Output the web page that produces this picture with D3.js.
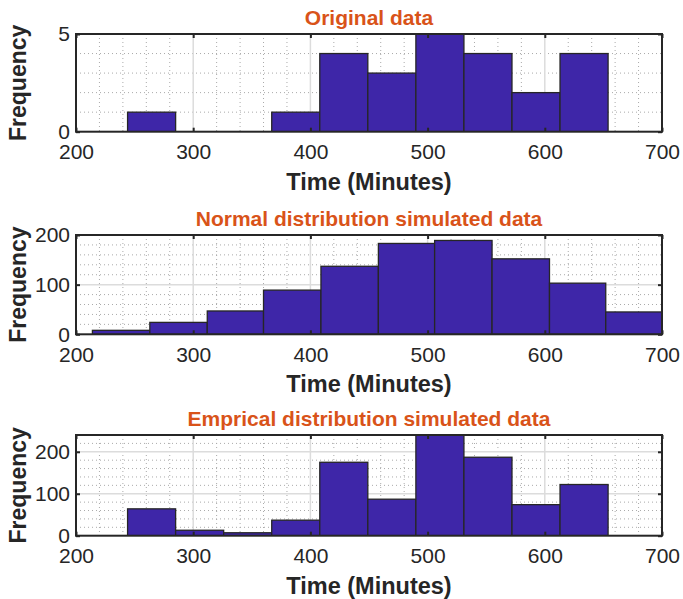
<!DOCTYPE html>
<html>
<head>
<meta charset="utf-8">
<script src="https://cdn.jsdelivr.net/npm/d3@7"></script>
<style>
  body { margin: 0; background: #fff; }
  text { font-family: "Liberation Sans", Arial, sans-serif; }
</style>
</head>
<body>
<div id="chart"></div>
<script>
// histogram data
const titles = ["Original data", "Normal distribution simulated data", "Emprical distribution simulated data"];

const origEdges = [244, 285, 326, 367, 408, 449, 490, 531, 572, 613, 654];
const origCounts = [1, 0, 0, 1, 4, 3, 5, 4, 2, 4];

const normEdges = [214, 263, 312, 360, 409, 458, 506, 555, 604, 652, 701];
const normCounts = [8, 24, 47, 89, 137, 183, 189, 152, 103, 45];

const empEdges = [244, 285, 326, 367, 408, 449, 490, 531, 572, 613, 654];
const empCounts = [64, 13, 7, 37, 175, 87, 240, 187, 74, 122];

const xTicks = [200, 300, 400, 500, 600, 700];
const yTicks1 = [0, 5];
const yTicks2 = [0, 100, 200];
const yTicks3 = [0, 100, 200];
const yMax = [5, 200, 240];
const yMinorStep = [1, 20, 20];

const W = 683, H = 599;
const left = 76, right = 662;
const panelTops = [34, 235, 435];
const panelBottoms = [131.7, 334.3, 535.7];

const barColor = "#3e26a8";
const axisColor = "#262626";

const svg = d3.select("#chart")
  .append("svg")
  .attr("width", W)
  .attr("height", H);

svg.append("rect").attr("width", W).attr("height", H).attr("fill", "#fff");

const panels = [
  { edges: origEdges, counts: origCounts, yTicks: yTicks1 },
  { edges: normEdges, counts: normCounts, yTicks: yTicks2 },
  { edges: empEdges, counts: empCounts, yTicks: yTicks3 },
];

panels.forEach((p, i) => {
  const top = panelTops[i], bottom = panelBottoms[i];
  const x = d3.scaleLinear().domain([200, 700]).range([left, right]);
  const y = d3.scaleLinear().domain([0, yMax[i]]).range([bottom, top]);

  const g = svg.append("g");

  // clip so bars past 700 are cut at the axis
  const clipId = "clip" + i;
  svg.append("clipPath").attr("id", clipId)
    .append("rect")
    .attr("x", left).attr("y", top)
    .attr("width", right - left).attr("height", bottom - top);

  // minor grid (dotted)
  const xMinor = d3.range(200, 700.01, 20).filter((v) => v % 100 !== 0);
  const yMinor = d3.range(0, yMax[i] + 0.01, yMinorStep[i]).filter((v) => !p.yTicks.includes(v) && v < yMax[i]);

  g.selectAll(".xminor")
    .data(xMinor)
    .enter()
    .append("line")
    .attr("x1", (d) => x(d)).attr("x2", (d) => x(d))
    .attr("y1", top).attr("y2", bottom)
    .attr("stroke", "#aaaaaa")
    .attr("stroke-width", 1)
    .attr("stroke-dasharray", "1,3");

  g.selectAll(".yminor")
    .data(yMinor)
    .enter()
    .append("line")
    .attr("x1", left).attr("x2", right)
    .attr("y1", (d) => y(d)).attr("y2", (d) => y(d))
    .attr("stroke", "#aaaaaa")
    .attr("stroke-width", 1)
    .attr("stroke-dasharray", "1,3");

  // major grid
  g.selectAll(".xmajor")
    .data(xTicks.slice(1, -1))
    .enter()
    .append("line")
    .attr("x1", (d) => x(d)).attr("x2", (d) => x(d))
    .attr("y1", top).attr("y2", bottom)
    .attr("stroke", "#dcdcdc")
    .attr("stroke-width", 1.5);

  g.selectAll(".ymajor")
    .data(p.yTicks.filter((v) => v > 0 && v < yMax[i]))
    .enter()
    .append("line")
    .attr("x1", left).attr("x2", right)
    .attr("y1", (d) => y(d)).attr("y2", (d) => y(d))
    .attr("stroke", "#dcdcdc")
    .attr("stroke-width", 1.5);

  // bars
  const bins = p.counts.map((c, k) => ({ x0: p.edges[k], x1: p.edges[k + 1], n: c }));
  g.append("g")
    .attr("clip-path", `url(#${clipId})`)
    .selectAll("rect")
    .data(bins.filter((b) => b.n > 0))
    .enter()
    .append("rect")
    .attr("x", (d) => x(d.x0))
    .attr("y", (d) => y(d.n))
    .attr("width", (d) => x(d.x1) - x(d.x0))
    .attr("height", (d) => y(0) - y(d.n))
    .attr("fill", barColor)
    .attr("stroke", axisColor)
    .attr("stroke-width", 1.3);

  // axes, ticks pointing inward
  const axB = g.append("g")
    .attr("transform", `translate(0,${bottom})`)
    .call(d3.axisBottom(x).tickValues(xTicks).tickSize(-4).tickSizeOuter(0).tickPadding(12.5));
  const axL = g.append("g")
    .attr("transform", `translate(${left},0)`)
    .call(d3.axisLeft(y).tickValues(p.yTicks).tickFormat(d3.format("d")).tickSize(-4).tickSizeOuter(0).tickPadding(6));
  const axT = g.append("g")
    .attr("transform", `translate(0,${top})`)
    .call(d3.axisTop(x).tickValues(xTicks).tickSize(-4).tickSizeOuter(0).tickFormat(""));
  const axR = g.append("g")
    .attr("transform", `translate(${right},0)`)
    .call(d3.axisRight(y).tickValues(p.yTicks).tickSize(-4).tickSizeOuter(0).tickFormat(""));

  [axB, axL, axT, axR].forEach((a) => {
    a.select(".domain").remove();
    a.selectAll("line").attr("stroke", axisColor).attr("stroke-width", 2);
    a.selectAll("text")
      .attr("fill", axisColor)
      .style("font-size", "21px")
      .style("font-family", "'Liberation Sans', Arial, sans-serif");
  });

  // box
  g.append("rect")
    .attr("x", left).attr("y", top)
    .attr("width", right - left).attr("height", bottom - top)
    .attr("fill", "none")
    .attr("stroke", axisColor)
    .attr("stroke-width", 2);

  // title
  g.append("text")
    .attr("x", (left + right) / 2)
    .attr("y", top - 9)
    .attr("text-anchor", "middle")
    .attr("fill", "#d95319")
    .style("font-size", "21px")
    .style("font-weight", "bold")
    .text(titles[i]);

  // x label
  g.append("text")
    .attr("x", (left + right) / 2)
    .attr("y", bottom + 58)
    .attr("text-anchor", "middle")
    .attr("fill", axisColor)
    .style("font-size", "23.5px")
    .style("font-weight", "bold")
    .text("Time (Minutes)");

  // y label
  g.append("text")
    .attr("transform", `translate(26,${(top + bottom) / 2}) rotate(-90)`)
    .attr("text-anchor", "middle")
    .attr("fill", axisColor)
    .style("font-size", "23px")
    .style("font-weight", "bold")
    .text("Frequency");
});
</script>
</body>
</html>
